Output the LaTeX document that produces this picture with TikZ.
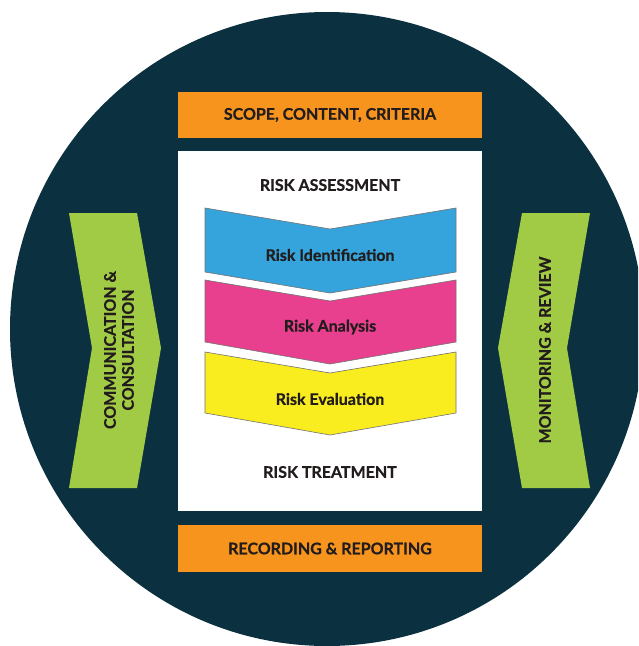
\documentclass[tikz,border=0pt]{standalone}
\usepackage{fontspec}
\setmainfont{Lato}[BoldFeatures={FakeBold=0.6}]
\definecolor{bg}{HTML}{0B3140}
\definecolor{orng}{HTML}{F7941D}
\definecolor{grn}{HTML}{A2CB45}
\definecolor{blu}{HTML}{35A3DC}
\definecolor{pnk}{HTML}{E8408E}
\definecolor{yel}{HTML}{F9EC1F}
\definecolor{txt}{HTML}{221C1C}
\begin{document}
\begin{tikzpicture}[x=1pt,y=-1pt,
  lbl/.style={font=\bfseries\fontsize{16}{18}\selectfont, text=txt, inner sep=0pt, align=center},
  obox/.style={fill=orng, minimum width=304pt, inner sep=0pt},
  chev/.style={draw=black!55, line width=0.6pt},
  grnchev/.style={fill=grn}]
\useasboundingbox (0,0) rectangle (638,646);
\clip (0,0) rectangle (638,646);
\fill[bg] (327,329) circle[radius=317pt];
% orange boxes and white panel
\node[obox, minimum height=46pt] (scope) at (330,115) {};
\node[fill=white, minimum width=304pt, minimum height=360pt, inner sep=0pt] (panel) at (330,331) {};
\node[obox, minimum height=47pt] (record) at (330,548.5) {};
% green side chevrons
\fill[grnchev] (69,213) -- (137,213) -- (161,348) -- (137,488) -- (69,488) -- (92,348) -- cycle;
\fill[grnchev] (522,213) -- (590,213) -- (567,348) -- (590,488) -- (522,488) -- (498,348) -- cycle;
% process chevrons
\filldraw[chev, fill=blu] (205,208) -- (330,229) -- (456,208) -- (456,272) -- (330,293) -- (205,272) -- cycle;
\filldraw[chev, fill=pnk] (205,280) -- (330,301) -- (456,280) -- (456,342) -- (330,364) -- (205,342) -- cycle;
\filldraw[chev, fill=yel] (205,352) -- (330,373) -- (456,352) -- (456,413) -- (330,435) -- (205,413) -- cycle;
% texts
\node[lbl] (scopet) at (330,115) {SCOPE, CONTENT, CRITERIA};
\node[lbl] (assess) at (330,185) {RISK ASSESSMENT};
\node[lbl] (ident) at (330,255) {Risk Identification};
\node[lbl] (anal) at (330,327) {Risk Analysis};
\node[lbl] (eval) at (330,399) {Risk Evaluation};
\node[lbl] (treat) at (330,472) {RISK TREATMENT};
\node[lbl] (recordt) at (330,548.5) {RECORDING \& REPORTING};
\node[lbl, rotate=90] (comm) at (119,350) {COMMUNICATION \&\\CONSULTATION};
\node[lbl, rotate=90] (monit) at (545,350) {MONITORING \& REVIEW};
\end{tikzpicture}
\end{document}
